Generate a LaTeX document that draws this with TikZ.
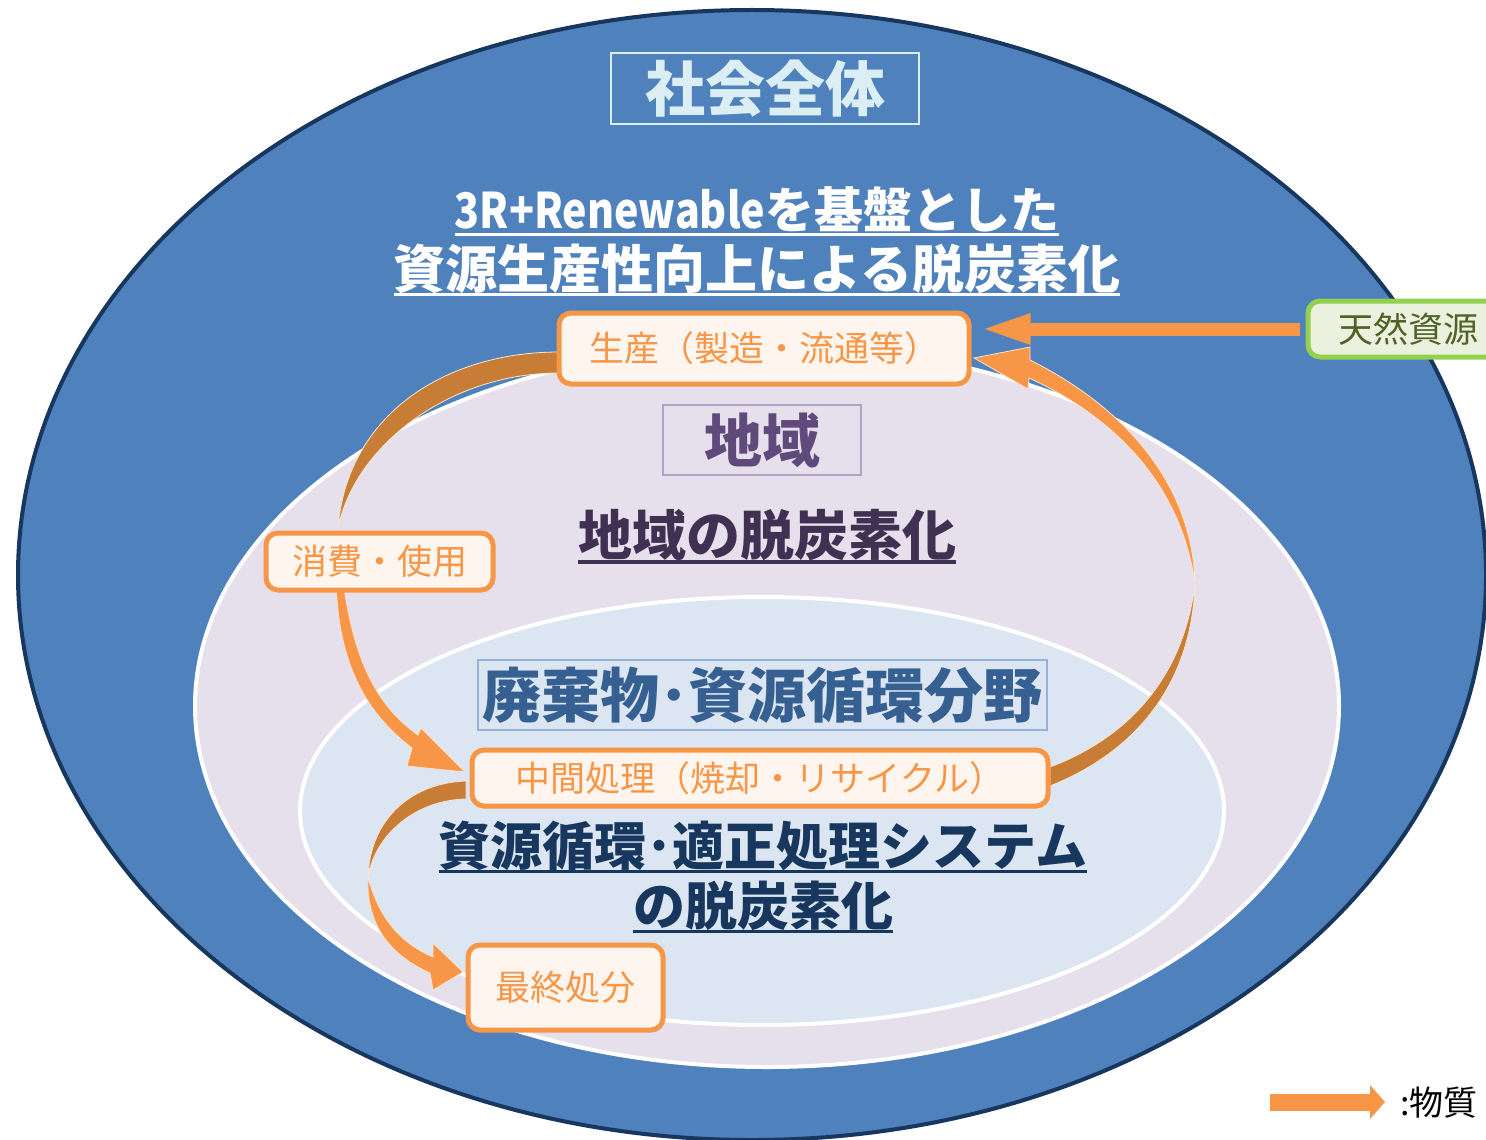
\documentclass[tikz,border=0pt]{standalone}
\usepackage{graphicx}
\usepackage{fontspec}
\setmainfont{Noto Sans CJK JP}
\usetikzlibrary{arrows.meta, calc}

\definecolor{societyblue}{RGB}{79,129,189}
\definecolor{societyedge}{RGB}{23,55,94}
\definecolor{societytext}{RGB}{218,238,243}
\definecolor{regionfill}{RGB}{230,224,236}
\definecolor{regionedge}{RGB}{179,162,199}
\definecolor{regiontext}{RGB}{96,74,123}
\definecolor{regiondark}{RGB}{64,49,82}
\definecolor{wastefill}{RGB}{220,230,242}
\definecolor{wasteedge}{RGB}{149,179,215}
\definecolor{wastetext}{RGB}{55,96,146}
\definecolor{flowor}{RGB}{247,150,70}
\definecolor{flowdark}{RGB}{200,125,55}
\definecolor{flowfill}{RGB}{254,245,238}
\definecolor{resgreen}{RGB}{146,208,80}
\definecolor{resfill}{RGB}{235,241,222}
\definecolor{restext}{RGB}{79,98,40}

\newcommand{\ulinetxt}[1]{\setbox0=\hbox{#1}\rlap{\rule[-0.16em]{\wd0}{0.06em}}\box0}

\tikzset{
  flowbox/.style={draw=flowor, fill=flowfill, line width=2.5pt, rounded corners=6pt, inner sep=0pt, text=flowor, font=\fontsize{17.5}{21}\selectfont},
  labelbox/.style={line width=1pt, inner sep=0pt},
  bandback/.style={fill=flowdark, draw=flowor!25!white, line width=0.4pt},
  bandfront/.style={fill=flowor, draw=flowor!25!white, line width=0.4pt},
}

\begin{document}
\begin{tikzpicture}[x=0.5pt, y=-0.5pt]
  \useasboundingbox (0,0) rectangle (1486,1139);
  \clip (0,0) rectangle (1486,1139);

  % Society / region / waste sector
  \draw[societyedge, fill=societyblue, line width=2pt] (752,575) ellipse [x radius=367pt, y radius=282.5pt];
  \draw[white, fill=regionfill, line width=2pt] (767,706) ellipse [x radius=286pt, y radius=180.5pt];
  \draw[white, fill=wastefill, line width=2pt] (762,811) ellipse [x radius=231pt, y radius=107pt];

  % Material flow: production -> consumption -> intermediate treatment
  \path[bandback] (559,352) .. controls (445,352) and (347,415) .. (338,528)
    .. controls (355,445) and (450,373) .. (559,373) -- cycle;
  \path[bandfront] (338,528) .. controls (328,640) and (355,705) .. (412,748)
    -- (407,766) -- (465,772) -- (421,728) -- (418,735)
    .. controls (368,700) and (345,640) .. (338,528) -- cycle;

  % Material flow: intermediate treatment -> production
  \path[bandback] (1050,786) .. controls (1140,750) and (1192,680) .. (1195,583)
    .. controls (1185,670) and (1135,735) .. (1050,767) -- cycle;
  \path[bandfront] (1195,583) .. controls (1192,480) and (1120,405) .. (1030,360)
    -- (1030,347) -- (974,358) -- (1028,389) -- (1029,378)
    .. controls (1110,415) and (1180,480) .. (1195,583) -- cycle;

  % Material flow: intermediate treatment -> final disposal
  \path[bandback] (466,781) .. controls (410,783) and (370,820) .. (368,877)
    .. controls (375,835) and (415,800) .. (466,799) -- cycle;
  \path[bandfront] (368,877) .. controls (366,925) and (390,955) .. (430,973)
    -- (433,990) -- (463,972) -- (433,943) -- (433,957)
    .. controls (398,942) and (378,915) .. (368,877) -- cycle;

  % Society
  \node[labelbox, draw=societytext, text=societytext, minimum width=154pt, minimum height=35.5pt, font=\fontsize{30}{36}\selectfont\bfseries] (society) at (765,88.5) {社会全体};
  \node[anchor=base, text=white, font=\fontsize{24.5}{31}\selectfont\bfseries] (goal1) at (757,228) {\ulinetxt{\scalebox{0.84}[1]{3R+Renewable}を基盤とした}};
  \node[anchor=base, text=white, font=\fontsize{26}{31}\selectfont\bfseries] (goal2) at (757,288) {\ulinetxt{資源生産性向上による脱炭素化}};

  % Region
  \node[labelbox, draw=regionedge, text=regiontext, minimum width=99pt, minimum height=35pt, font=\fontsize{29}{35}\selectfont\bfseries] (region) at (762,440) {地域};
  \node[anchor=base, text=regiondark, font=\fontsize{27}{32}\selectfont\bfseries] (regiongoal) at (767,555) {\ulinetxt{地域の脱炭素化}};

  % Waste and resource circulation
  \node[labelbox, draw=wasteedge, text=wastetext, minimum width=284.5pt, minimum height=35pt, font=\fontsize{29.5}{35}\selectfont\bfseries] (waste) at (762.5,695) {廃棄物･資源循環分野};
  \node[anchor=base, text=societyedge, font=\fontsize{26}{31}\selectfont\bfseries] (sysgoal1) at (763,865) {\ulinetxt{資源循環･適正処理システム}};
  \node[anchor=base, text=societyedge, font=\fontsize{26}{31}\selectfont\bfseries] (sysgoal2) at (763,925) {\ulinetxt{の脱炭素化}};

  % Flow stages
  \node[flowbox, minimum width=205pt, minimum height=35.5pt] (prod) at (764,348.5) {生産（製造・流通等）};
  \node[flowbox, minimum width=113.5pt, minimum height=28.5pt] (consume) at (379.5,561.5) {消費・使用};
  \node[flowbox, minimum width=288pt, minimum height=28pt] (midproc) at (760,778) {中間処理（焼却・リサイクル）};
  \node[flowbox, minimum width=97.5pt, minimum height=42.5pt] (final) at (565.5,987.5) {最終処分};
  \node[flowbox, draw=resgreen, fill=resfill, text=restext, minimum width=100pt, minimum height=28pt] (res) at (1408,329) {天然資源};

  \draw[flowor, line width=6.5pt, -{Triangle[width=13.5pt,length=26pt]}] ($(res.west)+(-6,0)$) -- ($(res.west -| prod.east)+(7,0)$);

  % Legend
  \node[anchor=west, inner sep=0pt, font=\fontsize{17}{20}\selectfont] (legend) at (1400,1103) {:物質};
  \coordinate (legtail) at (1270,1102);
  \draw[flowor, line width=8.5pt, -{Triangle[width=16.5pt,length=7.5pt]}] (legtail) -- ($(legend.west)+(-15,-1)$);
\end{tikzpicture}
\end{document}
